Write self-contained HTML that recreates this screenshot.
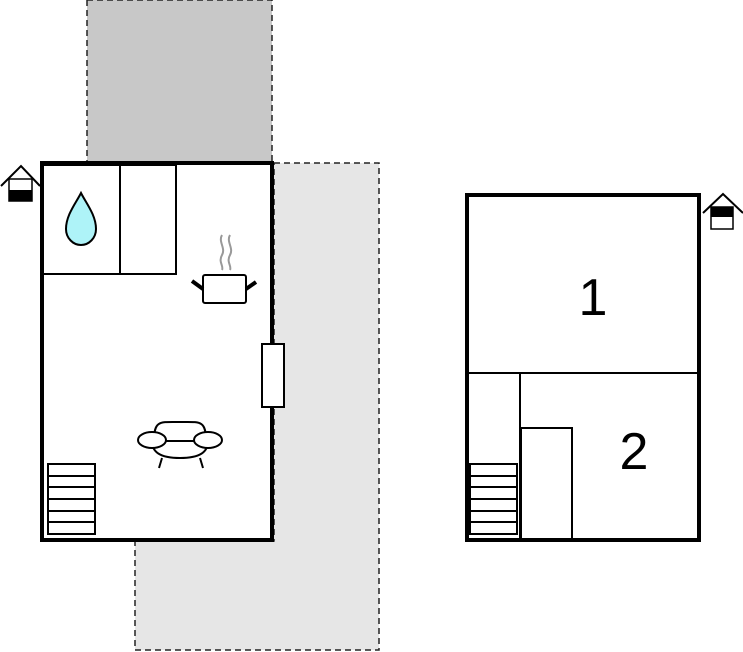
<!DOCTYPE html>
<html><head><style>html,body{margin:0;padding:0;background:#fff}svg{display:block}</style></head><body>
<svg width="743" height="652" viewBox="0 0 743 652" xmlns="http://www.w3.org/2000/svg">
<rect x="87" y="0" width="185" height="163" fill="#c8c8c8" stroke="#222" stroke-width="1.5" stroke-dasharray="6,4"/>
<polygon points="274,163 379,163 379,650 135,650 135,541 274,541" fill="#e6e6e6" stroke="#222" stroke-width="1.5" stroke-dasharray="6,4"/>
<rect x="42" y="163" width="230" height="377" fill="#fff" stroke="#000" stroke-width="4"/>
<g stroke="#000" stroke-width="2" fill="none">
<rect x="43" y="165" width="77" height="109"/>
<rect x="120" y="165" width="56" height="109"/>
</g>
<path d="M81,193 C76,203 66,215 66,229 C66,238 73,245 81,245 C89,245 96,238 96,229 C96,215 86,203 81,193 Z" fill="#aef3f8" stroke="#000" stroke-width="2"/>
<g fill="none" stroke="#999" stroke-width="2">
<path d="M222,235 C218,242 226,248 222,255 C218,262 224,266 222,270"/>
<path d="M230,235 C226,242 234,248 230,255 C226,262 232,266 230,270"/>
</g>
<rect x="203" y="275" width="43" height="28" rx="2" fill="#fff" stroke="#000" stroke-width="2"/>
<g stroke="#000" stroke-width="4"><line x1="192" y1="281" x2="203" y2="289"/><line x1="246" y1="289" x2="256" y2="282"/></g>
<rect x="262" y="344" width="22" height="63" fill="#fff" stroke="#000" stroke-width="2"/>
<g fill="#fff" stroke="#000" stroke-width="2">
<path d="M154,441 C154,420 160,422 180,422 C200,422 206,420 206,441 Z"/>
<path d="M152,441 L208,441 C208,452 200,458 180,458 C160,458 152,452 152,441 Z"/>
<ellipse cx="152" cy="440" rx="14" ry="8"/>
<ellipse cx="208" cy="440" rx="14" ry="8"/>
<line x1="162" y1="458" x2="159" y2="468"/><line x1="200" y1="458" x2="203" y2="468"/>
</g>
<g fill="#fff" stroke="#000" stroke-width="2">
<rect x="48" y="464" width="47" height="70"/>
<line x1="48" y1="476" x2="95" y2="476"/><line x1="48" y1="487" x2="95" y2="487"/><line x1="48" y1="499" x2="95" y2="499"/><line x1="48" y1="511" x2="95" y2="511"/><line x1="48" y1="522" x2="95" y2="522"/>
</g>
<polyline points="1,186 21,166 40,186" fill="none" stroke="#000" stroke-width="2"/>
<rect x="9" y="179" width="23" height="22" fill="#fff" stroke="#000" stroke-width="1.5"/>
<rect x="9" y="190" width="23" height="11" fill="#000"/>
<rect x="467" y="195" width="232" height="345" fill="#fff" stroke="#000" stroke-width="4"/>
<g stroke="#000" stroke-width="2" fill="none">
<line x1="467" y1="373" x2="699" y2="373"/>
<line x1="520" y1="373" x2="520" y2="540"/>
<rect x="521" y="428" width="51" height="112"/>
<rect x="470" y="464" width="47" height="70"/>
<line x1="470" y1="476" x2="517" y2="476"/><line x1="470" y1="487" x2="517" y2="487"/><line x1="470" y1="499" x2="517" y2="499"/><line x1="470" y1="511" x2="517" y2="511"/><line x1="470" y1="522" x2="517" y2="522"/>
</g>
<text x="593" y="315" font-family="Liberation Sans, sans-serif" font-size="52" text-anchor="middle">1</text>
<text x="634" y="469" font-family="Liberation Sans, sans-serif" font-size="52" text-anchor="middle">2</text>
<polyline points="703,213 723,194 743,213" fill="none" stroke="#000" stroke-width="2"/>
<rect x="711" y="207" width="22" height="22" fill="#fff" stroke="#000" stroke-width="1.5"/>
<rect x="711" y="207" width="22" height="10" fill="#000"/>
</svg>
</body></html>
